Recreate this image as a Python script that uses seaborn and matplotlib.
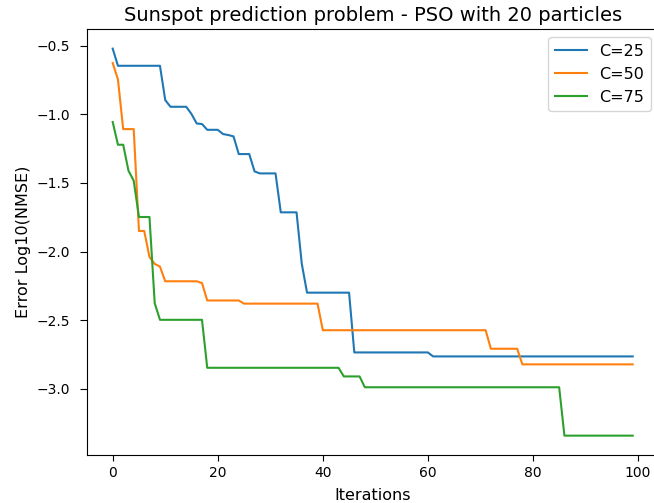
import matplotlib
matplotlib.use("Agg")
import matplotlib.pyplot as plt
import seaborn as sns
import pandas as pd
import numpy as np

title = "Sunspot prediction problem - PSO with 20 particles"
x_label = "Iterations"
y_label = "Error Log10(NMSE)"
series_names = ["C=25", "C=50", "C=75"]
iterations = list(range(100))

c25 = [-0.52,
       -0.645, -0.645, -0.645, -0.645, -0.645, -0.645, -0.645, -0.645, -0.645,
       -0.895,
       -0.944, -0.944, -0.944, -0.944,
       -0.997, -1.066, -1.07,
       -1.112, -1.112, -1.112,
       -1.143, -1.15, -1.16,
       -1.289, -1.289, -1.289,
       -1.415,
       -1.43, -1.43, -1.43, -1.43,
       -1.714, -1.714, -1.714, -1.714,
       -2.09,
       -2.30, -2.30, -2.30, -2.30, -2.30, -2.30, -2.30, -2.30, -2.30,
       -2.736, -2.736, -2.736, -2.736, -2.736, -2.736, -2.736, -2.736,
       -2.736, -2.736, -2.736, -2.736, -2.736, -2.736, -2.736,
       -2.765, -2.765, -2.765, -2.765, -2.765, -2.765, -2.765, -2.765,
       -2.765, -2.765, -2.765, -2.765, -2.765, -2.765, -2.765, -2.765,
       -2.765, -2.765, -2.765, -2.765, -2.765, -2.765, -2.765, -2.765,
       -2.765, -2.765, -2.765, -2.765, -2.765, -2.765, -2.765, -2.765,
       -2.765, -2.765, -2.765, -2.765, -2.765, -2.765, -2.765]

c50 = [-0.625, -0.745,
       -1.107, -1.107, -1.107,
       -1.85, -1.85,
       -2.04, -2.09, -2.11,
       -2.217, -2.217, -2.217, -2.217, -2.217, -2.217, -2.217,
       -2.23,
       -2.357, -2.357, -2.357, -2.357, -2.357, -2.357, -2.357,
       -2.38, -2.38, -2.38, -2.38, -2.38, -2.38, -2.38, -2.38,
       -2.38, -2.38, -2.38, -2.38, -2.38, -2.38, -2.38,
       -2.574, -2.574, -2.574, -2.574, -2.574, -2.574, -2.574, -2.574,
       -2.574, -2.574, -2.574, -2.574, -2.574, -2.574, -2.574, -2.574,
       -2.574, -2.574, -2.574, -2.574, -2.574, -2.574, -2.574, -2.574,
       -2.574, -2.574, -2.574, -2.574, -2.574, -2.574, -2.574, -2.574,
       -2.709, -2.709, -2.709, -2.709, -2.709, -2.709,
       -2.823, -2.823, -2.823, -2.823, -2.823, -2.823, -2.823, -2.823,
       -2.823, -2.823, -2.823, -2.823, -2.823, -2.823, -2.823, -2.823,
       -2.823, -2.823, -2.823, -2.823, -2.823, -2.823]

c75 = [-1.055,
       -1.221, -1.221,
       -1.41, -1.483,
       -1.748, -1.748, -1.748,
       -2.377,
       -2.498, -2.498, -2.498, -2.498, -2.498, -2.498, -2.498, -2.498, -2.498,
       -2.848, -2.848, -2.848, -2.848, -2.848, -2.848, -2.848, -2.848,
       -2.848, -2.848, -2.848, -2.848, -2.848, -2.848, -2.848, -2.848,
       -2.848, -2.848, -2.848, -2.848, -2.848, -2.848, -2.848, -2.848,
       -2.848, -2.848,
       -2.911, -2.911, -2.911, -2.911,
       -2.99, -2.99, -2.99, -2.99, -2.99, -2.99, -2.99, -2.99,
       -2.99, -2.99, -2.99, -2.99, -2.99, -2.99, -2.99, -2.99,
       -2.99, -2.99, -2.99, -2.99, -2.99, -2.99, -2.99, -2.99,
       -2.99, -2.99, -2.99, -2.99, -2.99, -2.99, -2.99, -2.99,
       -2.99, -2.99, -2.99, -2.99, -2.99, -2.99,
       -3.343, -3.343, -3.343, -3.343, -3.343, -3.343, -3.343,
       -3.343, -3.343, -3.343, -3.343, -3.343, -3.343, -3.343]

frames = []
for name, vals in zip(series_names, [c25, c50, c75]):
    frames.append(pd.DataFrame({"Iterations": iterations[:len(vals)],
                                "Error": vals, "C": name}))
df = pd.concat(frames, ignore_index=True)

fig = plt.figure(figsize=(6.54, 5.03), dpi=100)
ax = fig.add_axes([86.7 / 654, 48 / 503, 572 / 654, 425.7 / 503])
sns.lineplot(data=df, x="Iterations", y="Error", hue="C",
             palette=["#1f77b4", "#ff7f0e", "#2ca02c"], linewidth=1.5, ax=ax)
ax.set_title(title, fontsize=14)
ax.set_xlabel(x_label, fontsize=11.5, labelpad=6)
ax.set_ylabel(y_label, fontsize=11.5)
ax.tick_params(axis="x", labelsize=10, length=4.2)
ax.tick_params(axis="y", labelsize=10, length=5, pad=7)
ax.legend(loc="upper right", title=None, fontsize=11.5)
fig.savefig("out.png", dpi=100)
